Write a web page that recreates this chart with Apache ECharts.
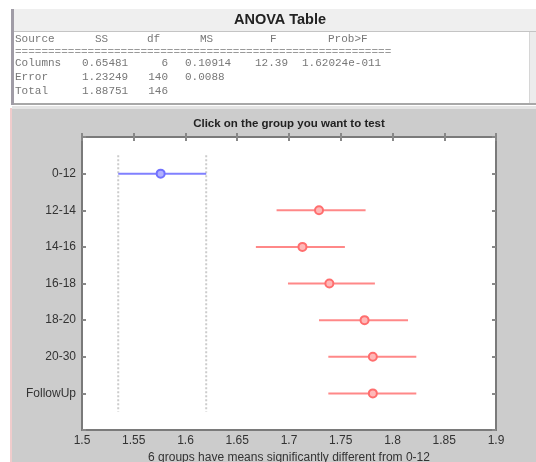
<!DOCTYPE html>
<html><head><meta charset="utf-8">
<script src="https://cdn.jsdelivr.net/npm/echarts@6/dist/echarts.min.js"></script>
<style>html,body{margin:0;padding:0;background:#fff}#c{width:536px;height:462px}</style>
</head><body><div id="c"></div>
<script>
const groups = ['0-12', '12-14', '14-16', '16-18', '18-20', '20-30', 'FollowUp'];
const means = [1.576, 1.729, 1.713, 1.739, 1.773, 1.781, 1.781];
const lower = [1.535, 1.688, 1.668, 1.699, 1.729, 1.738, 1.738];
const upper = [1.620, 1.774, 1.754, 1.783, 1.815, 1.823, 1.823];
const xMin = 1.5, xMax = 1.9, xStep = 0.05;
const xTickLabels = ['1.5', '1.55', '1.6', '1.65', '1.7', '1.75', '1.8', '1.85', '1.9'];
const chartTitle = 'Click on the group you want to test';
const xName = '6 groups have means significantly different from 0-12';
const tableTitle = 'ANOVA Table';
const tableHeader = ['Source', 'SS', 'df', 'MS', 'F', 'Prob>F'];
const tableColumns = ['Columns', '0.65481', '6', '0.10914', '12.39', '1.62024e-011'];
const tableError = ['Error', '1.23249', '140', '0.0088', '', ''];
const tableTotal = ['Total', '1.88751', '146', '', '', ''];
const tableSeparator = '='.repeat(57);

const chart = echarts.init(document.getElementById('c'));

const monoFont = '11px "Liberation Mono", "Courier New", monospace';
const headerX = [15, 95, 147, 200, 270, 328];
const dataX = [15, 82, 168, 185, 255, 302];
const dataAlign = ['left', 'left', 'right', 'left', 'left', 'left'];
const rowY = [63, 77, 91];

const graphics = [
  // figure background
  {type: 'rect', z: -10, shape: {x: 12, y: 108, width: 524, height: 354}, style: {fill: '#cccccc'}},
  {type: 'rect', z: -9, shape: {x: 12, y: 106, width: 524, height: 3}, style: {fill: '#e4e4e4'}},
  {type: 'rect', z: -9, shape: {x: 10, y: 108, width: 2, height: 354}, style: {fill: '#f0cccc'}},
  // table panel
  {type: 'rect', z: -10, shape: {x: 12, y: 9, width: 524, height: 96}, style: {fill: '#ffffff'}},
  {type: 'rect', z: -9, shape: {x: 13, y: 9, width: 523, height: 22}, style: {fill: '#efefef'}},
  {type: 'rect', z: -9, shape: {x: 13, y: 31, width: 523, height: 1}, style: {fill: '#c4c4c4'}},
  {type: 'rect', z: -9, shape: {x: 530, y: 32, width: 6, height: 73}, style: {fill: '#ececec'}},
  {type: 'rect', z: -9, shape: {x: 529, y: 32, width: 1, height: 73}, style: {fill: '#d6d6d6'}},
  {type: 'rect', z: -9, shape: {x: 12, y: 103, width: 524, height: 2}, style: {fill: '#a8a8a8'}},
  {type: 'rect', z: -8, shape: {x: 11, y: 9, width: 3, height: 96}, style: {fill: '#a09ca6'}},
  {type: 'text', z: 5, style: {text: tableTitle, x: 280, y: 20, align: 'center', verticalAlign: 'middle',
    font: 'bold 14.5px "Liberation Sans", Arial, sans-serif', fill: '#222'}},
  {type: 'text', z: 5, style: {text: tableSeparator, x: 15, y: 52, verticalAlign: 'middle', font: monoFont, fill: '#999'}}
];
tableHeader.forEach((t, i) => graphics.push({type: 'text', z: 5, style: {text: t, x: headerX[i], y: 39,
  verticalAlign: 'middle', font: monoFont, fill: '#777'}}));
[tableColumns, tableError, tableTotal].forEach((row, r) => row.forEach((t, i) => {
  if (!t) return;
  graphics.push({type: 'text', z: 5, style: {text: t, x: dataX[i], y: rowY[r], align: dataAlign[i],
    verticalAlign: 'middle', font: monoFont, fill: '#777'}});
}));

const labelFont = {fontFamily: '"Liberation Sans", Arial, sans-serif', fontSize: 12, color: '#333'};

chart.setOption({
  animation: false,
  backgroundColor: 'transparent',
  graphic: {elements: graphics},
  title: {
    text: chartTitle, left: 289, top: 118, padding: 0, textAlign: 'center',
    textStyle: {fontFamily: '"Liberation Sans", Arial, sans-serif', fontSize: 11.5, fontWeight: 'bold', color: '#222'}
  },
  grid: {left: 82, right: 40, top: 137, bottom: 32, show: true, backgroundColor: '#ffffff',
    borderColor: '#7a7a7a', borderWidth: 2, containLabel: false, outerBoundsMode: 'none'},
  xAxis: [{
    type: 'value', min: xMin, max: xMax, interval: xStep, position: 'bottom',
    axisLine: {show: false}, splitLine: {show: false},
    axisTick: {show: true, inside: true, length: 4, lineStyle: {color: '#888', width: 2}},
    axisLabel: Object.assign({margin: 5, formatter: v => xTickLabels[Math.round((v - xMin) / xStep)]}, labelFont),
    name: xName, nameLocation: 'middle', nameGap: 18, nameTextStyle: labelFont
  }, {
    type: 'value', min: xMin, max: xMax, interval: xStep, position: 'top',
    axisLine: {show: false}, splitLine: {show: false}, axisLabel: {show: false},
    axisTick: {show: true, inside: true, length: 4, lineStyle: {color: '#888', width: 2}}
  }],
  yAxis: [{
    type: 'value', min: 0, max: groups.length + 1, interval: 1, inverse: true, position: 'left',
    axisLine: {show: false}, splitLine: {show: false},
    axisTick: {show: true, inside: true, length: 4, lineStyle: {color: '#888', width: 2}},
    axisLabel: Object.assign({margin: 6, formatter: v => groups[v - 1] || ''}, labelFont)
  }, {
    type: 'value', min: 0, max: groups.length + 1, interval: 1, inverse: true, position: 'right',
    axisLine: {show: false}, splitLine: {show: false}, axisLabel: {show: false},
    axisTick: {show: true, inside: true, length: 4, lineStyle: {color: '#888', width: 2}}
  }],
  series: [{
    type: 'custom',
    xAxisIndex: 0, yAxisIndex: 0,
    data: [lower[0], upper[0]].map(v => [v]),
    renderItem: (params, api) => {
      const a = api.coord([api.value(0), 0.5]);
      const b = api.coord([api.value(0), groups.length + 0.5]);
      return {type: 'line', shape: {x1: a[0], y1: a[1], x2: b[0], y2: b[1]},
        style: {stroke: '#cccccc', lineWidth: 2, lineDash: [2, 2]}};
    },
    silent: true
  }, {
    type: 'custom',
    xAxisIndex: 0, yAxisIndex: 0,
    data: groups.map((g, i) => [lower[i], upper[i], means[i], i + 1]),
    encode: {x: [0, 1, 2], y: 3},
    renderItem: (params, api) => {
      const y = api.value(3);
      const p1 = api.coord([api.value(0), y]);
      const p2 = api.coord([api.value(1), y]);
      const pm = api.coord([api.value(2), y]);
      const blue = params.dataIndex === 0;
      const lineColor = blue ? '#8080ff' : '#ff8888';
      const markColor = blue ? '#7070ff' : '#ff6e6e';
      return {type: 'group', children: [
        {type: 'line', shape: {x1: p1[0], y1: p1[1], x2: p2[0], y2: p2[1]},
          style: {stroke: lineColor, lineWidth: 2}},
        {type: 'circle', shape: {cx: pm[0], cy: pm[1], r: 4},
          style: {stroke: markColor, fill: blue ? '#b0b0ff' : '#ffb8b8', lineWidth: 2}}
      ]};
    }
  }]
});
</script></body></html>
